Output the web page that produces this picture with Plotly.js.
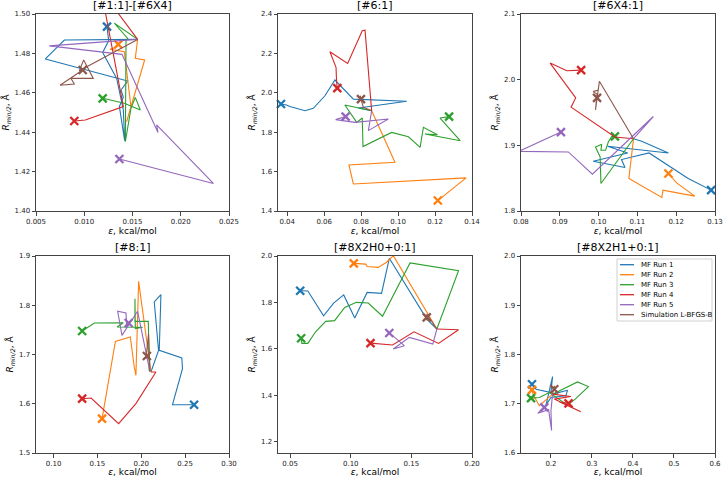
<!DOCTYPE html>
<html><head><meta charset="utf-8">
<script src="https://cdn.plot.ly/plotly-3.0.1.min.js"></script>
<style>html,body{margin:0;padding:0;background:#fff}#chart{width:724px;height:477px}</style>
</head><body><div id="chart"></div>
<script>
// ---------------- DATA ----------------
const seriesNames = ['MF Run 1','MF Run 2','MF Run 3','MF Run 4','MF Run 5','Simulation L-BFGS-B'];
const panelTitles = ['[#1:1]-[#6X4]','[#6:1]','[#6X4:1]','[#8:1]','[#8X2H0+0:1]','[#8X2H1+0:1]'];

// Panel 1: [#1:1]-[#6X4]  (epsilon, kcal/mol ; Rmin/2, Å) one array per run
const p1Eps = [
  [0.01553,0.00794,0.00597,0.01450,0.01381,0.01405,0.01364,0.01419,0.01405,0.01336,0.01191,0.01253,0.01236],
  [0.01553,0.01529,0.01626,0.01529,0.01439,0.01484,0.01415,0.01267,0.01329,0.01353],
  [0.01553,0.01312,0.01450,0.01433,0.01426,0.01484,0.01529,0.01581,0.01415,0.01191],
  [0.01553,0.01301,0.01201,0.01405,0.01011,0.00897],
  [0.01553,0.00638,0.01391,0.01764,0.01750,0.02338,0.01364],
  [0.01553,0.00949,0.00994,0.01094,0.00863,0.00897,0.00749,0.00845,0.00984]
];
const p1Rmin = [
  [1.4871,1.4868,1.4772,1.4660,1.4614,1.4577,1.4530,1.4357,1.4513,1.4673,1.4804,1.4865,1.4936],
  [1.4871,1.4775,1.4767,1.4597,1.4453,1.4530,1.4809,1.4821,1.4831,1.4846],
  [1.4871,1.4953,1.4876,1.4865,1.4352,1.4521,1.4577,1.4513,1.4547,1.4572],
  [1.4871,1.5037,1.5054,1.4530,1.4462,1.4457],
  [1.4871,1.4838,1.4795,1.4398,1.4437,1.4140,1.4264],
  [1.4871,1.4712,1.4767,1.4673,1.4673,1.4645,1.4638,1.4668,1.4716]
];

// Panel 2: [#6:1]
const p2Eps = [
  [0.0857,0.0785,0.1047,0.0758,0.0658,0.0604,0.0541,0.0496,0.0414,0.0396,0.0366],
  [0.0857,0.0983,0.0734,0.0758,0.1368,0.1215],
  [0.0857,0.0712,0.0776,0.0806,0.0810,0.0965,0.1056,0.1119,0.1137,0.1213,0.1146,0.1336,0.1227,0.1276],
  [0.0857,0.0821,0.0806,0.0727,0.0631,0.0664,0.0667,0.0671],
  [0.0857,0.0839,0.0947,0.0767,0.0662,0.0716],
  [0.0857,0.0812,0.0794,0.0806,0.0790,0.0799]
];
const p2Rmin = [
  [1.909,1.923,1.957,1.968,2.065,1.985,1.921,1.909,1.930,1.938,1.943],
  [1.909,1.647,1.634,1.537,1.568,1.453],
  [1.909,1.938,1.850,1.872,1.727,1.799,1.777,1.723,1.825,1.787,1.791,1.757,1.872,1.879],
  [1.909,2.318,2.315,2.149,2.208,2.129,2.058,2.024],
  [1.909,1.808,1.867,1.850,1.864,1.879],
  [1.909,1.926,1.985,1.960,1.973,1.968]
];

// Panel 3: [#6X4:1]
const p3Eps = [
  [0.1090,0.1111,0.1180,0.1023,0.1075,0.0986,0.1068,0.1059,0.1130,0.1231,0.1290],
  [0.1090,0.1078,0.1163,0.1166,0.1248,0.1201,0.1180],
  [0.1090,0.1006,0.1004,0.0992,0.1008,0.1006,0.1018,0.1025,0.1034,0.1042],
  [0.1090,0.1042,0.0929,0.0941,0.0875,0.0918,0.0955],
  [0.1090,0.1141,0.0984,0.0922,0.0795,0.0903],
  [0.1090,0.1002,0.0992,0.0996,0.0986,0.0999,0.0996]
];
const p3Rmin = [
  [1.9101,1.9061,1.8884,1.8985,1.8884,1.8758,1.8662,1.8783,1.8884,1.8495,1.8318],
  [1.9101,1.8495,1.8207,1.8318,1.8227,1.8429,1.8571],
  [1.9101,1.8419,1.8823,1.8975,1.9015,1.8924,1.8924,1.9051,1.9136,1.9136],
  [1.9101,1.9126,1.9581,1.9722,2.0253,2.0136,2.0146],
  [1.9101,1.9439,1.8561,1.8899,1.8909,1.9202],
  [1.9101,1.9975,1.9540,1.9783,1.9818,1.9843,1.9722]
];

// Panel 4: [#8:1]
const p4Eps = [
  [0.2110,0.2197,0.2148,0.2224,0.2205,0.2462,0.2470,0.2356,0.2602],
  [0.2110,0.1970,0.1939,0.1920,0.1875,0.1705,0.1553],
  [0.2091,0.2080,0.1928,0.1928,0.1932,0.2015,0.1724,0.1795,0.1466,0.1326],
  [0.2110,0.2167,0.1939,0.1742,0.1428,0.1326],
  [0.2099,0.1958,0.1780,0.1731,0.1826,0.1833,0.1856],
  [0.2099,0.2083,0.2053,0.2064]
];
const p4Rmin = [
  [1.6645,1.7085,1.8066,1.8215,1.7085,1.6929,1.6712,1.5981,1.5981],
  [1.6645,1.8486,1.6577,1.6746,1.7355,1.7267,1.5697],
  [1.6658,1.7673,1.7673,1.8134,1.7525,1.7552,1.7558,1.7646,1.7640,1.7477],
  [1.6645,1.6645,1.6002,1.5596,1.6117,1.6103],
  [1.6645,1.7877,1.7389,1.7877,1.7843,1.7558,1.7640],
  [1.6658,1.7423,1.6915,1.6970]
];

// Panel 5: [#8X2H0+0:1]
const p5Eps = [
  [0.1710,0.1627,0.1318,0.1254,0.1135,0.1033,0.0942,0.0859,0.0776,0.0646,0.0583],
  [0.1710,0.1351,0.1295,0.1226,0.1135,0.1124,0.1025],
  [0.1710,0.1889,0.1489,0.1262,0.1144,0.1047,0.0950,0.0867,0.0793,0.0710,0.0646,0.0597,0.0591],
  [0.1710,0.1889,0.1724,0.1522,0.1345,0.1163],
  [0.1710,0.1677,0.1483,0.1351,0.1442,0.1318],
  [0.1710,0.1627,0.1632,0.1627]
];
const p5Rmin = [
  [1.685,1.728,1.990,1.839,1.843,1.732,1.832,1.797,1.742,1.849,1.850],
  [1.685,2.0015,1.973,1.951,1.955,1.965,1.968],
  [1.685,1.937,1.970,1.740,1.797,1.800,1.778,1.721,1.718,1.673,1.623,1.623,1.645],
  [1.685,1.682,1.623,1.673,1.616,1.624],
  [1.685,1.620,1.649,1.599,1.613,1.668],
  [1.685,1.750,1.721,1.735]
];

// Panel 6: [#8X2H1+0:1]
const p6Eps = [
  [0.2040,0.2405,0.2364,0.2000,0.1879,0.2040,0.2000,0.1636,0.1538],
  [0.2040,0.1838,0.1717,0.1571,0.1538],
  [0.2040,0.2648,0.2915,0.2591,0.2405,0.1960,0.1717,0.1514],
  [0.2040,0.2486,0.2081,0.2729,0.2202,0.2429],
  [0.2040,0.2000,0.2016,0.1943,0.1676,0.1838],
  [0.2040,0.2081,0.2105,0.2081]
];
const p6Rmin = [
  [1.7195,1.7275,1.7161,1.7128,1.6973,1.7550,1.7228,1.7295,1.7396],
  [1.7195,1.7060,1.6960,1.7175,1.7282],
  [1.7195,1.7443,1.7349,1.7094,1.6973,1.7228,1.7128,1.7114],
  [1.7195,1.7148,1.7094,1.6839,1.7040,1.7007],
  [1.7195,1.6859,1.6456,1.6879,1.6805,1.6926],
  [1.7195,1.7362,1.7262,1.7295]
];

// Axis ranges and tick values
const xRanges = [[0.005,0.025],[0.035,0.14],[0.08,0.13],[0.08,0.30],[0.04,0.20],[0.127,0.6]];
const yRanges = [[1.40,1.50],[1.4,2.4],[1.8,2.1],[1.5,1.9],[1.15,2.0],[1.6,2.0]];
const xTicks = [[0.005,0.010,0.015,0.020,0.025],[0.04,0.06,0.08,0.10,0.12,0.14],[0.08,0.09,0.10,0.11,0.12,0.13],[0.10,0.15,0.20,0.25,0.30],[0.05,0.10,0.15,0.20],[0.2,0.3,0.4,0.5,0.6]];
const yTicks = [[1.40,1.42,1.44,1.46,1.48,1.50],[1.4,1.6,1.8,2.0,2.2,2.4],[1.8,1.9,2.0,2.1],[1.5,1.6,1.7,1.8,1.9],[1.2,1.4,1.6,1.8,2.0],[1.6,1.7,1.8,1.9,2.0]];
const xFormats = ['.3f','.2f','.2f','.2f','.2f','.1f'];
const yFormats = ['.2f','.1f','.1f','.1f','.1f','.1f'];

// ---------------- BUILD ----------------
const COLORS = ['#1f77b4','#ff7f0e','#2ca02c','#d62728','#9467bd','#8c564b'];
const panelsEps = [p1Eps,p2Eps,p3Eps,p4Eps,p5Eps,p6Eps];
const panelsRmin = [p1Rmin,p2Rmin,p3Rmin,p4Rmin,p5Rmin,p6Rmin];

const W = 724, H = 477;
const px = v => v / W, py = v => 1 - v / H;
const xDom = [[px(36),px(229)],[px(278),px(472)],[px(521),px(715)]];
const yDom = [[py(211),py(14)],[py(453),py(256)]];

const traces = [];
const layout = {
  width: W, height: H,
  margin: {l:0,r:0,t:0,b:0},
  paper_bgcolor: '#fff', plot_bgcolor: '#fff',
  font: {family: 'DejaVu Sans, sans-serif', color: '#000'},
  showlegend: false,
  annotations: [], shapes: []
};

for (let p = 0; p < 6; p++) {
  const suf = p === 0 ? '' : String(p+1);
  const xa = 'x' + suf, ya = 'y' + suf;
  const col = p % 3, row = Math.floor(p/3);
  layout['xaxis' + suf] = {
    domain: xDom[col], anchor: ya, range: xRanges[p], tickvals: xTicks[p], tickformat: xFormats[p],
    showgrid: false, zeroline: false, showline: true, mirror: true, linecolor: '#444', linewidth: 1,
    ticks: 'outside', ticklen: 3.5, tickwidth: 1, tickcolor: '#444',
    tickfont: {size: 7, color: '#222'},
    title: {text: '<i>ε</i>, kcal/mol', font: {size: 9, color: '#000'}, standoff: 2}
  };
  layout['yaxis' + suf] = {
    domain: yDom[row], anchor: xa, range: yRanges[p], tickvals: yTicks[p], tickformat: yFormats[p],
    showgrid: false, zeroline: false, showline: true, mirror: true, linecolor: '#444', linewidth: 1,
    ticks: 'outside', ticklen: 3.5, tickwidth: 1, tickcolor: '#444',
    tickfont: {size: 7, color: '#222'},
    title: {text: '<i>R<sub>min/2</sub></i>, Å', font: {size: 9, color: '#000'}, standoff: 3}
  };
  layout.annotations.push({
    text: panelTitles[p], xref: 'paper', yref: 'paper',
    x: (xDom[col][0]+xDom[col][1])/2, y: yDom[row][1], xanchor: 'center', yanchor: 'bottom',
    yshift: 0, showarrow: false, font: {size: 11, color: '#000'}
  });
  for (let s = 0; s < 6; s++) {
    const ex = panelsEps[p][s], ry = panelsRmin[p][s];
    traces.push({
      type: 'scatter', mode: 'lines', x: ex, y: ry, xaxis: xa, yaxis: ya,
      name: seriesNames[s], line: {color: COLORS[s], width: 1.1}, hoverinfo: 'skip'
    });
    traces.push({
      type: 'scatter', mode: 'markers', x: [ex[ex.length-1]], y: [ry[ry.length-1]],
      xaxis: xa, yaxis: ya, cliponaxis: false, name: seriesNames[s],
      marker: {symbol: 'x-thin', size: 8, color: COLORS[s], line: {color: COLORS[s], width: 2.3}},
      hoverinfo: 'skip'
    });
  }
}

// Compact legend box inside the last panel (drawn with shapes + annotations)
const legBox = {x0: 617, x1: 712, y0: 259, y1: 321};
layout.shapes.push({type: 'rect', xref: 'paper', yref: 'paper',
  x0: px(legBox.x0), x1: px(legBox.x1), y0: py(legBox.y1), y1: py(legBox.y0),
  line: {color: '#d0d0d0', width: 1}, fillcolor: 'rgba(255,255,255,0.8)', layer: 'above'});
for (let s = 0; s < seriesNames.length; s++) {
  const yy = 264.7 + s * 10;
  layout.shapes.push({type: 'line', xref: 'paper', yref: 'paper',
    x0: px(620), x1: px(634), y0: py(yy), y1: py(yy),
    line: {color: COLORS[s], width: 1.3}, layer: 'above'});
  layout.annotations.push({text: seriesNames[s], xref: 'paper', yref: 'paper',
    x: px(639), y: py(yy), xanchor: 'left', yanchor: 'middle', showarrow: false,
    font: {size: 7, color: '#000'}});
}

Plotly.newPlot('chart', traces, layout, {staticPlot: true, displayModeBar: false});
</script>
</body></html>
